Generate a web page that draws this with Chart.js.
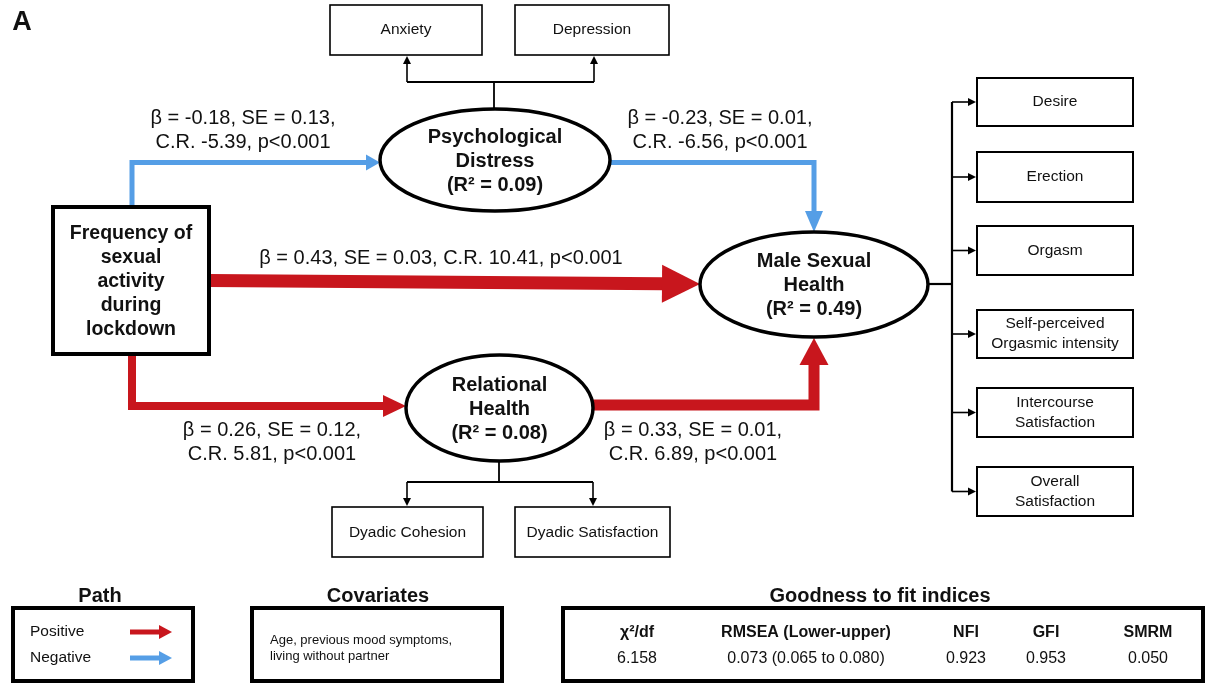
<!DOCTYPE html>
<html>
<head>
<meta charset="utf-8">
<script src="https://cdn.jsdelivr.net/npm/chart.js@4.4.0/dist/chart.umd.min.js"></script>
<style>
  html, body { margin: 0; padding: 0; background: #fff; }
  canvas { display: block; }
</style>
</head>
<body>
<canvas id="sem" width="1205" height="690"></canvas>
<script>
// --- model data ---
const exposureName = 'Frequency of\nsexual\nactivity\nduring\nlockdown';
const latentNames = ['Psychological\nDistress', 'Male Sexual\nHealth', 'Relational\nHealth'];
const latentR2 = [0.09, 0.49, 0.08];
const distressIndicators = ['Anxiety', 'Depression'];
const relationalIndicators = ['Dyadic Cohesion', 'Dyadic Satisfaction'];
const sexualIndicators = ['Desire', 'Erection', 'Orgasm', 'Self-perceived\nOrgasmic intensity', 'Intercourse\nSatisfaction', 'Overall\nSatisfaction'];

// paths: exposure->distress, distress->sexual, exposure->sexual, exposure->relational, relational->sexual
const pathBeta = [-0.18, -0.23, 0.43, 0.26, 0.33];
const pathSE = [0.13, 0.01, 0.03, 0.12, 0.01];
const pathCR = [-5.39, -6.56, 10.41, 5.81, 6.89];
const pathP = ['p<0.001', 'p<0.001', 'p<0.001', 'p<0.001', 'p<0.001'];

const covariates = ['Age, previous mood symptoms,', 'living without partner'];
const fitHeaders = ['χ²/df', 'RMSEA (Lower-upper)', 'NFI', 'GFI', 'SMRM'];
const fitValues = ['6.158', '0.073 (0.065 to 0.080)', '0.923', '0.953', '0.050'];

// --- layout (in scale units, 1 unit = 1 px of the figure) ---
const RED = '#c8161d';
const BLUE = '#559ee6';
const layout = {
  freqBox: { x1: 53, y1: 207, x2: 209, y2: 354, lineY: 234, step: 24 },
  ellipses: [
    { cx: 495, cy: 160, rx: 115, ry: 51 },
    { cx: 814, cy: 284.5, rx: 114, ry: 52.5 },
    { cx: 499.5, cy: 408, rx: 93.5, ry: 53 }
  ],
  distressBoxes: [{ x1: 330, x2: 482 }, { x1: 515, x2: 669 }],
  distressBoxY: [5, 55],
  distressFork: { x0: 494, y0: 110, y1: 82, xs: [407, 594] },
  relBoxes: [{ x1: 332, x2: 483 }, { x1: 515, x2: 670 }],
  relBoxY: [507, 557],
  relFork: { x0: 499, y0: 460, y1: 482, xs: [407, 593] },
  sexBoxX: [977, 1133],
  sexBoxY: [[78, 126], [152, 202], [226, 275], [310, 358], [388, 437], [467, 516]],
  sexSpine: { x: 952, xFrom: 928 },
  paths: [
    { pts: [[132, 207], [132, 162.5], [380, 162.5]], w: 5, hl: 14, hw: 16, label: [243, 118], lines: 2 },
    { pts: [[610, 162.5], [814, 162.5], [814, 232]], w: 5, hl: 21, hw: 18, label: [720, 118], lines: 2 },
    { pts: [[209, 280.5], [700, 284]], w: 13, hl: 38, hw: 38, label: [441, 258], lines: 1 },
    { pts: [[132, 354], [132, 406], [406, 406]], w: 8, hl: 23, hw: 22, label: [272, 430], lines: 2 },
    { pts: [[593, 405], [814, 405], [814, 338]], w: 11, hl: 27, hw: 29, label: [693, 430], lines: 2 }
  ],
  legend: { box: [13, 608, 193, 681], title: [100, 596] },
  covar: { box: [252, 608, 502, 681], title: [378, 596] },
  fit: { box: [563, 608, 1203, 681], title: [880, 596], cols: [637, 806, 966, 1046, 1148] }
};

const FONT = '"Liberation Sans", Arial, sans-serif';

function pathText(i) {
  const b = 'β = ' + pathBeta[i].toFixed(2) + ', SE = ' + pathSE[i].toFixed(2) + ',';
  const c = 'C.R. ' + pathCR[i].toFixed(2) + ', ' + pathP[i];
  return layout.paths[i].lines === 1 ? [b + ' ' + c] : [b, c];
}

const diagram = {
  id: 'diagram',
  afterDraw(chart) {
    const ctx = chart.ctx;
    const sx = chart.scales.x, sy = chart.scales.y;
    const X = v => sx.getPixelForValue(v);
    const Y = v => sy.getPixelForValue(v);
    ctx.save();
    ctx.textAlign = 'center';
    ctx.textBaseline = 'middle';

    function rect(x1, y1, x2, y2, lw) {
      ctx.lineWidth = lw;
      ctx.strokeStyle = '#000';
      ctx.strokeRect(X(x1), Y(y1), X(x2) - X(x1), Y(y2) - Y(y1));
    }
    function text(str, x, y, font, align) {
      ctx.font = font;
      ctx.fillStyle = '#111';
      ctx.textAlign = align || 'center';
      ctx.fillText(str, X(x), Y(y));
    }
    function arrow(pts, color, w, hl, hw) {
      const n = pts.length;
      const [ax, ay] = pts[n - 2], [bx, by] = pts[n - 1];
      const px1 = X(ax), py1 = Y(ay), px2 = X(bx), py2 = Y(by);
      const len = Math.hypot(px2 - px1, py2 - py1);
      const ux = (px2 - px1) / len, uy = (py2 - py1) / len;
      const baseX = px2 - ux * hl, baseY = py2 - uy * hl;
      ctx.strokeStyle = color;
      ctx.fillStyle = color;
      ctx.lineWidth = w;
      ctx.lineJoin = 'miter';
      ctx.lineCap = 'butt';
      ctx.beginPath();
      ctx.moveTo(X(pts[0][0]), Y(pts[0][1]));
      for (let k = 1; k < n - 1; k++) ctx.lineTo(X(pts[k][0]), Y(pts[k][1]));
      ctx.lineTo(baseX + ux, baseY + uy);
      ctx.stroke();
      ctx.beginPath();
      ctx.moveTo(px2, py2);
      ctx.lineTo(baseX - uy * hw / 2, baseY + ux * hw / 2);
      ctx.lineTo(baseX + uy * hw / 2, baseY - ux * hw / 2);
      ctx.closePath();
      ctx.fill();
    }
    function thinArrow(pts) { arrow(pts, '#000', 1.6, 8, 8); }
    function line(pts, w) {
      ctx.strokeStyle = '#000';
      ctx.lineWidth = w;
      ctx.beginPath();
      pts.forEach((p, k) => k ? ctx.lineTo(X(p[0]), Y(p[1])) : ctx.moveTo(X(p[0]), Y(p[1])));
      ctx.stroke();
    }

    // panel letter
    text('A', 22, 23, 'bold 27px ' + FONT);

    // indicator forks of psychological distress
    const df = layout.distressFork;
    line([[df.x0, df.y0], [df.x0, df.y1]], 1.8);
    line([[df.xs[0], df.y1], [df.xs[1], df.y1]], 1.8);
    df.xs.forEach(x => thinArrow([[x, df.y1], [x, layout.distressBoxY[1] + 1]]));
    distressIndicators.forEach((name, i) => {
      const b = layout.distressBoxes[i];
      rect(b.x1, layout.distressBoxY[0], b.x2, layout.distressBoxY[1], 1.6);
      text(name, (b.x1 + b.x2) / 2, 30, '15.5px ' + FONT);
    });

    // indicator forks of relational health
    const rf = layout.relFork;
    line([[rf.x0, rf.y0], [rf.x0, rf.y1]], 1.8);
    line([[rf.xs[0], rf.y1], [rf.xs[1], rf.y1]], 1.8);
    rf.xs.forEach(x => thinArrow([[x, rf.y1], [x, layout.relBoxY[0] - 1]]));
    relationalIndicators.forEach((name, i) => {
      const b = layout.relBoxes[i];
      rect(b.x1, layout.relBoxY[0], b.x2, layout.relBoxY[1], 1.6);
      text(name, (b.x1 + b.x2) / 2, 533, '15.5px ' + FONT);
    });

    // sexual health indicators
    const sp = layout.sexSpine;
    const mids = layout.sexBoxY.map(r => (r[0] + r[1]) / 2);
    line([[sp.xFrom, 284], [sp.x, 284]], 2.2);
    line([[sp.x, mids[0]], [sp.x, mids[mids.length - 1]]], 2.2);
    sexualIndicators.forEach((name, i) => {
      const [y1, y2] = layout.sexBoxY[i];
      thinArrow([[sp.x, mids[i]], [layout.sexBoxX[0] - 1, mids[i]]]);
      rect(layout.sexBoxX[0], y1, layout.sexBoxX[1], y2, 2);
      const parts = name.split('\n');
      const cx = (layout.sexBoxX[0] + layout.sexBoxX[1]) / 2;
      parts.forEach((p, k) => {
        const yy = mids[i] + (k - (parts.length - 1) / 2) * 20;
        text(p, cx, yy, '15.5px ' + FONT);
      });
    });

    // structural paths
    layout.paths.forEach((p, i) => {
      arrow(p.pts, pathBeta[i] < 0 ? BLUE : RED, p.w, p.hl, p.hw);
      pathText(i).forEach((t, k) => text(t, p.label[0], p.label[1] + k * 24, '20px ' + FONT));
    });

    // exposure box
    const fb = layout.freqBox;
    ctx.fillStyle = '#fff';
    ctx.fillRect(X(fb.x1), Y(fb.y1), X(fb.x2) - X(fb.x1), Y(fb.y2) - Y(fb.y1));
    rect(fb.x1, fb.y1, fb.x2, fb.y2, 4);
    exposureName.split('\n').forEach((t, k) =>
      text(t, (fb.x1 + fb.x2) / 2, fb.lineY + k * fb.step, 'bold 19.5px ' + FONT));

    // latent variables
    latentNames.forEach((name, i) => {
      const e = layout.ellipses[i];
      const cx = X(e.cx), cy = Y(e.cy);
      const rx = X(e.cx + e.rx) - cx, ry = Y(e.cy + e.ry) - cy;
      ctx.beginPath();
      ctx.ellipse(cx, cy, Math.abs(rx), Math.abs(ry), 0, 0, Math.PI * 2);
      ctx.fillStyle = '#fff';
      ctx.fill();
      ctx.lineWidth = 3.5;
      ctx.strokeStyle = '#000';
      ctx.stroke();
      const lines = name.split('\n').concat(['(R² = ' + latentR2[i].toFixed(2) + ')']);
      lines.forEach((t, k) => text(t, e.cx, e.cy + 1 + (k - 1) * 24, 'bold 20px ' + FONT));
    });

    // legend: path
    const lg = layout.legend;
    text('Path', lg.title[0], lg.title[1], 'bold 20px ' + FONT);
    rect(lg.box[0], lg.box[1], lg.box[2], lg.box[3], 4);
    text('Positive', 30, 632, '15.5px ' + FONT, 'left');
    text('Negative', 30, 658, '15.5px ' + FONT, 'left');
    arrow([[130, 632], [172, 632]], RED, 5, 13, 14);
    arrow([[130, 658], [172, 658]], BLUE, 5, 13, 14);

    // covariates
    const cv = layout.covar;
    text('Covariates', cv.title[0], cv.title[1], 'bold 20px ' + FONT);
    rect(cv.box[0], cv.box[1], cv.box[2], cv.box[3], 4);
    covariates.forEach((t, k) => text(t, 270, 640 + k * 16, '13px ' + FONT, 'left'));

    // goodness of fit
    const ft = layout.fit;
    text('Goodness to fit indices', ft.title[0], ft.title[1], 'bold 20px ' + FONT);
    rect(ft.box[0], ft.box[1], ft.box[2], ft.box[3], 4);
    fitHeaders.forEach((h, i) => text(h, ft.cols[i], 633, 'bold 16px ' + FONT));
    fitValues.forEach((v, i) => text(v, ft.cols[i], 659, '16px ' + FONT));

    ctx.restore();
  }
};

new Chart(document.getElementById('sem'), {
  type: 'scatter',
  data: { datasets: [{ data: [], pointRadius: 0 }] },
  options: {
    responsive: false,
    animation: false,
    devicePixelRatio: 1,
    layout: { padding: 0 },
    plugins: { legend: { display: false }, tooltip: { enabled: false } },
    scales: {
      x: { type: 'linear', min: 0, max: 1205, display: false },
      y: { type: 'linear', min: 0, max: 690, reverse: true, display: false }
    }
  },
  plugins: [diagram]
});
</script>
</body>
</html>
